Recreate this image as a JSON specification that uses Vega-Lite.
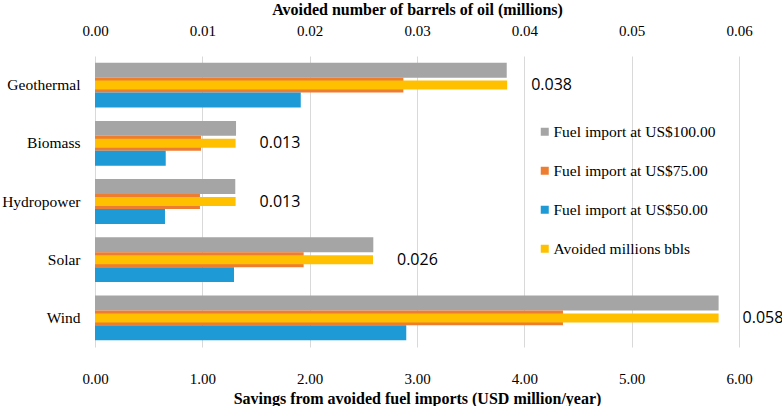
{
  "$schema": "https://vega.github.io/schema/vega-lite/v6.json",
  "width": 644,
  "height": 291,
  "autosize": {"type": "none"},
  "padding": {"left": 95, "top": 56, "right": 43, "bottom": 59},
  "background": "white",
  "config": {
    "view": {"stroke": null},
    "axis": {"labelFont": "Liberation Serif", "titleFont": "Liberation Serif", "labelColor": "#000", "titleColor": "#000", "labelFontSize": 15, "titleFontSize": 16, "titleFontWeight": "bold", "domain": false, "ticks": false, "labelOverlap": false, "labelFlush": false},
    "legend": {"labelFont": "Liberation Serif", "labelFontSize": 15.5, "labelColor": "#000", "labelLimit": 0}
  },
  "data": {
    "values": [
      {"cat": "Geothermal", "series": "Fuel import at US$100.00", "value": 3.836},
      {"cat": "Geothermal", "series": "Fuel import at US$75.00", "value": 2.873},
      {"cat": "Geothermal", "series": "Fuel import at US$50.00", "value": 1.917},
      {"cat": "Geothermal", "series": "Avoided millions bbls", "value": 0.0384},
      {"cat": "Biomass", "series": "Fuel import at US$100.00", "value": 1.314},
      {"cat": "Biomass", "series": "Fuel import at US$75.00", "value": 0.988},
      {"cat": "Biomass", "series": "Fuel import at US$50.00", "value": 0.659},
      {"cat": "Biomass", "series": "Avoided millions bbls", "value": 0.0131},
      {"cat": "Hydropower", "series": "Fuel import at US$100.00", "value": 1.307},
      {"cat": "Hydropower", "series": "Fuel import at US$75.00", "value": 0.978},
      {"cat": "Hydropower", "series": "Fuel import at US$50.00", "value": 0.652},
      {"cat": "Hydropower", "series": "Avoided millions bbls", "value": 0.0131},
      {"cat": "Solar", "series": "Fuel import at US$100.00", "value": 2.593},
      {"cat": "Solar", "series": "Fuel import at US$75.00", "value": 1.944},
      {"cat": "Solar", "series": "Fuel import at US$50.00", "value": 1.295},
      {"cat": "Solar", "series": "Avoided millions bbls", "value": 0.0259},
      {"cat": "Wind", "series": "Fuel import at US$100.00", "value": 5.81},
      {"cat": "Wind", "series": "Fuel import at US$75.00", "value": 4.36},
      {"cat": "Wind", "series": "Fuel import at US$50.00", "value": 2.9},
      {"cat": "Wind", "series": "Avoided millions bbls", "value": 0.0581}
    ]
  },
  "encoding": {
    "y": {"field": "cat", "type": "nominal", "sort": ["Geothermal", "Biomass", "Hydropower", "Solar", "Wind"], "scale": {"paddingInner": 0.23, "paddingOuter": 0.115}, "axis": {"title": null, "labelPadding": 15, "labelFontSize": 15.5, "grid": false}},
    "color": {"field": "series", "type": "nominal",
      "scale": {"domain": ["Fuel import at US$100.00", "Fuel import at US$75.00", "Fuel import at US$50.00", "Avoided millions bbls"], "range": ["#A5A5A5", "#ED7D31", "#1E9AD6", "#FFC000"]},
      "legend": {"title": null, "orient": "none", "legendX": 442, "legendY": 68, "symbolType": "square", "symbolSize": 64, "symbolStrokeWidth": 0, "labelOffset": 1, "rowPadding": 22, "padding": 0}}
  },
  "layer": [
    {
      "transform": [{"filter": "datum.series !== 'Avoided millions bbls'"}],
      "mark": {"type": "bar"},
      "encoding": {
        "x": {"field": "value", "type": "quantitative", "scale": {"domain": [0, 6]},
          "axis": {"title": "Savings from avoided fuel imports (USD million/year)", "orient": "bottom", "format": ".2f", "values": [0,1,2,3,4,5,6], "grid": true, "gridColor": "#D9D9D9", "labelPadding": 24, "titlePadding": 4}},
        "yOffset": {"field": "series", "type": "nominal", "sort": ["Fuel import at US$100.00", "Fuel import at US$75.00", "Fuel import at US$50.00"]}
      }
    },
    {
      "transform": [{"filter": "datum.series === 'Avoided millions bbls'"}],
      "layer": [
        {
          "mark": {"type": "bar", "size": 9},
          "encoding": {
            "x": {"field": "value", "type": "quantitative", "scale": {"domain": [0, 0.06]},
              "axis": {"title": "Avoided number of barrels of oil (millions)", "orient": "top", "format": ".2f", "values": [0,0.01,0.02,0.03,0.04,0.05,0.06], "grid": false, "labelPadding": 18, "titlePadding": 6}}
          }
        },
        {
          "mark": {"type": "text", "align": "left", "baseline": "middle", "dx": 24, "font": "Open Sans", "fontSize": 16, "color": "#000"},
          "encoding": {
            "x": {"field": "value", "type": "quantitative"},
            "text": {"field": "value", "type": "quantitative", "format": ".3f"},
            "color": {"value": "#000"}
          }
        }
      ]
    }
  ],
  "resolve": {"scale": {"x": "independent"}}
}
